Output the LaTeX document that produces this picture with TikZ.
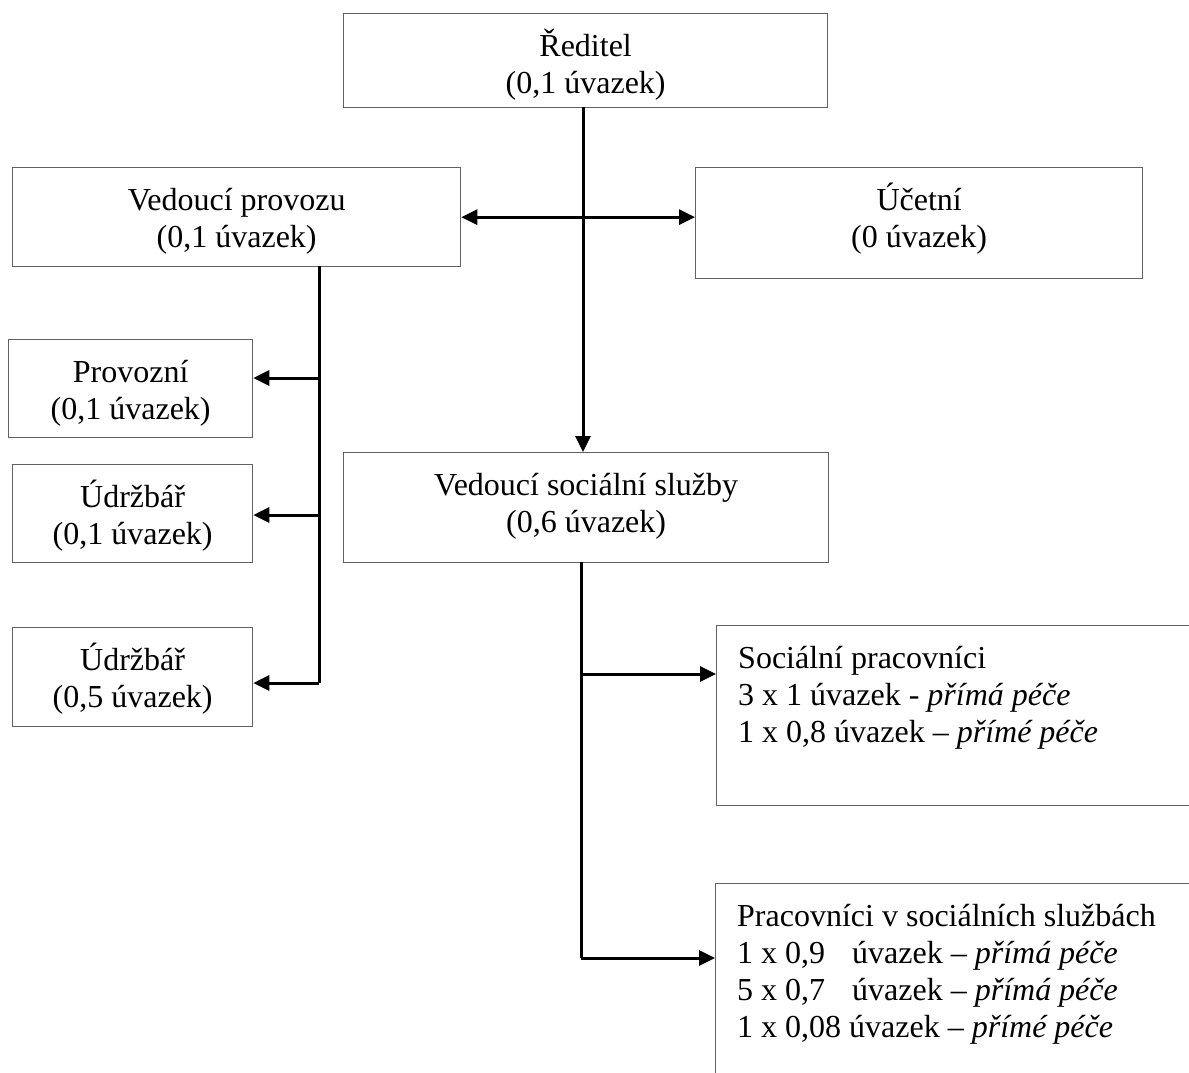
\documentclass[tikz,border=0pt]{standalone}
\usepackage{fontspec}
\setmainfont{Liberation Serif}
\usetikzlibrary{arrows.meta}
\newcommand\firststrut{\rule{0pt}{30pt}}
\begin{document}
\begin{tikzpicture}[x=1pt,y=-1pt,
  box/.style={draw=black!62, line width=1.3pt, inner sep=0pt, anchor=north west},
  ctxt/.style={inner sep=0pt, anchor=north, align=center, font=\fontsize{32}{37}\selectfont},
  ltxt/.style={inner sep=0pt, anchor=north west, align=left, font=\fontsize{32}{37}\selectfont},
  conn/.style={line width=3pt, black},
  tip/.style={-{Triangle[length=16pt,width=15pt]}},
  dtip/.style={{Triangle[length=16pt,width=15pt]}-{Triangle[length=16pt,width=15pt]}}
]
\useasboundingbox (0,0) rectangle (1189,1072);
\clip (0,0) rectangle (1189,1072);

% boxes
\node[box, minimum width=484pt, minimum height=94pt] (red) at (343,13) {};
\node[box, minimum width=448pt, minimum height=99pt] (vp) at (12,167) {};
\node[box, minimum width=447pt, minimum height=111pt] (uc) at (695,167) {};
\node[box, minimum width=244pt, minimum height=98pt] (prov) at (8,339) {};
\node[box, minimum width=240pt, minimum height=98pt] (ud1) at (12,464) {};
\node[box, minimum width=240pt, minimum height=99pt] (ud2) at (12,627) {};
\node[box, minimum width=485pt, minimum height=110pt] (vss) at (343,452) {};
\node[box, minimum width=480pt, minimum height=180pt] (sp) at (716,625) {};
\node[box, minimum width=480pt, minimum height=205pt] (pss) at (715,883) {};

% texts
\node[ctxt] (tred) at ([yshift=-13pt]red.north) {\firststrut Ředitel\\(0,1 úvazek)};
\node[ctxt] (tvp) at ([yshift=-13pt]vp.north) {\firststrut Vedoucí provozu\\(0,1 úvazek)};
\node[ctxt] (tuc) at ([yshift=-13pt]uc.north) {\firststrut Účetní\\(0 úvazek)};
\node[ctxt] (tprov) at ([yshift=-13pt]prov.north) {\firststrut Provozní\\(0,1 úvazek)};
\node[ctxt] (tud1) at ([yshift=-13pt]ud1.north) {\firststrut Údržbář\\(0,1 úvazek)};
\node[ctxt] (tud2) at ([yshift=-13pt]ud2.north) {\firststrut Údržbář\\(0,5 úvazek)};
\node[ctxt] (tvss) at ([yshift=-13pt]vss.north) {\firststrut Vedoucí sociální služby\\(0,6 úvazek)};
\node[ltxt] (tsp) at ([xshift=22pt,yshift=-13pt]sp.north west)
  {\firststrut Sociální pracovníci\\3 x 1 úvazek - \textit{přímá péče}\\1 x 0,8 úvazek -- \textit{přímé péče}};
\node[ltxt] (tpss) at ([xshift=22pt,yshift=-13pt]pss.north west)
  {\firststrut Pracovníci v sociálních službách\\1 x 0,9\hspace{19pt} úvazek -- \textit{přímá péče}\\5 x 0,7\hspace{19pt} úvazek -- \textit{přímá péče}\\1 x 0,08 úvazek -- \textit{přímé péče}};

% connectors
\coordinate (rd) at (583,107);
\draw[conn, tip] (rd) -- (rd |- vss.north);
\draw[conn, dtip] (vp.east) -- (vp.east -| uc.west);

\coordinate (vpb) at (319,266);
\coordinate (j1) at (319,378);
\coordinate (j2) at (319,515);
\coordinate (j3) at (319,683);
\draw[conn] (vpb) -- (j3);
\draw[conn, tip] (j1) -- (j1 -| prov.east);
\draw[conn, tip] (j2) -- (j2 -| ud1.east);
\draw[conn, tip] (j3) -- (j3 -| ud2.east);

\coordinate (s0) at (581,562);
\coordinate (s1) at (581,674);
\coordinate (s2) at (581,958);
\draw[conn] (s0) -- (s2);
\draw[conn, tip] (s1) -- (s1 -| sp.west);
\draw[conn, tip] (s2) -- (s2 -| pss.west);
\end{tikzpicture}
\end{document}
